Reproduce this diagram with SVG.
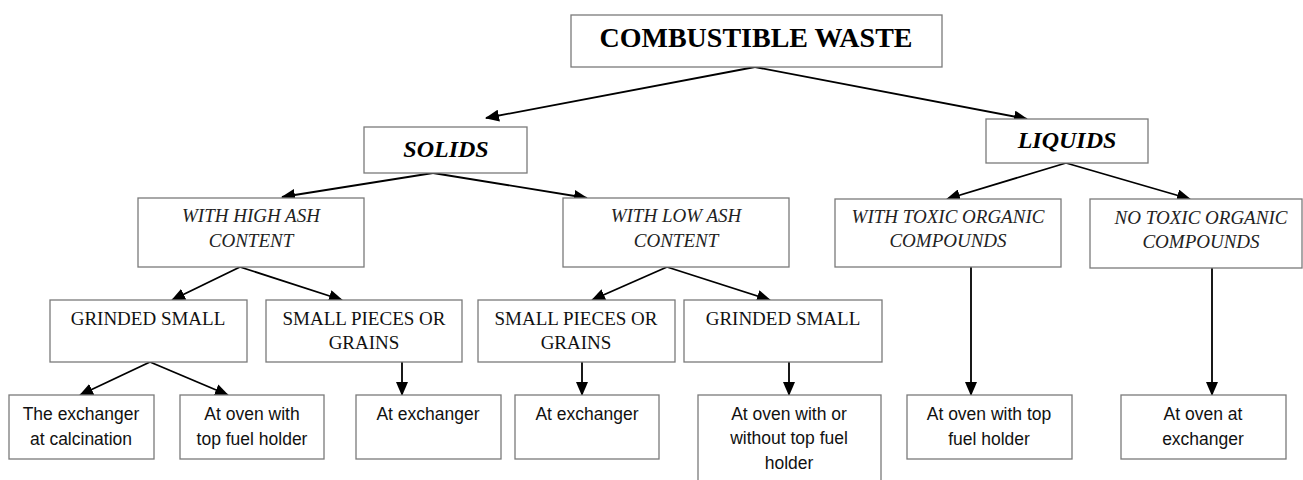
<svg xmlns="http://www.w3.org/2000/svg" width="1303" height="480" viewBox="0 0 1303 480">
<style>
.box{fill:#fff;stroke:#7a7a7a;stroke-width:1.3}
.t{text-anchor:middle;fill:#000}
.root{font-family:"Liberation Serif","Times New Roman",Times,"DejaVu Serif",serif;font-weight:bold;font-size:28px}
.cat{font-family:"Liberation Serif","Times New Roman",Times,"DejaVu Serif",serif;font-weight:bold;font-style:italic;font-size:24px}
.it{font-family:"Liberation Serif","Times New Roman",Times,"DejaVu Serif",serif;font-style:italic;font-size:19px;fill:#222}
.sr{font-family:"Liberation Serif","Times New Roman",Times,"DejaVu Serif",serif;font-size:19px;fill:#111}
.ss{font-family:"Liberation Sans",Arial,sans-serif;font-size:17.5px;fill:#111}
.c{stroke:#000;stroke-width:1.8;fill:none;marker-end:url(#ah)}
</style>
<defs>
<marker id="ah" markerUnits="userSpaceOnUse" markerWidth="14" markerHeight="12" viewBox="0 0 14 12" refX="13" refY="6" orient="auto">
<path d="M0,0 L14,6 L0,12 z" fill="#000"/>
</marker>
</defs>
<rect width="1303" height="480" fill="#fff"/>
<g id="connectors">
<path class="c" d="M755,67 L486,118"/>
<path class="c" d="M755,67 L1027,119"/>
<path class="c" d="M433,173 L282,197"/>
<path class="c" d="M433,173 L587,198"/>
<path class="c" d="M1066,163 L947,199"/>
<path class="c" d="M1066,163 L1190,199"/>
<path class="c" d="M240,267 L172,300"/>
<path class="c" d="M240,267 L342,300"/>
<path class="c" d="M667,267 L592,300"/>
<path class="c" d="M667,267 L770,300"/>
<path class="c" d="M150,362 L80,395"/>
<path class="c" d="M150,362 L228,395"/>
<path class="c" d="M402,362 L402,395"/>
<path class="c" d="M582,362 L582,395"/>
<path class="c" d="M789,362 L789,395"/>
<path class="c" d="M971,267 L971,395"/>
<path class="c" d="M1212,268 L1212,395"/>
</g>
<g id="n-root"><rect class="box" x="571" y="15" width="371" height="52"/><text class="t root" x="756" y="47">COMBUSTIBLE WASTE</text></g>
<g id="n-solids"><rect class="box" x="364" y="127" width="163" height="46"/><text class="t cat" x="446" y="157">SOLIDS</text></g>
<g id="n-liquids"><rect class="box" x="986" y="119" width="162" height="44"/><text class="t cat" x="1067" y="148">LIQUIDS</text></g>
<g id="n-highash"><rect class="box" x="138" y="198" width="226" height="69"/><text class="t it" x="251" y="222">WITH HIGH ASH</text><text class="t it" x="251" y="247">CONTENT</text></g>
<g id="n-lowash"><rect class="box" x="563" y="198" width="226" height="69"/><text class="t it" x="676" y="222">WITH LOW ASH</text><text class="t it" x="676" y="247">CONTENT</text></g>
<g id="n-toxic"><rect class="box" x="835" y="199" width="226" height="68"/><text class="t it" x="948" y="223">WITH TOXIC ORGANIC</text><text class="t it" x="948" y="247">COMPOUNDS</text></g>
<g id="n-notoxic"><rect class="box" x="1090" y="199" width="212" height="69"/><text class="t it" x="1201" y="224">NO TOXIC ORGANIC</text><text class="t it" x="1201" y="248">COMPOUNDS</text></g>
<g id="n-grind1"><rect class="box" x="50" y="300" width="197" height="62"/><text class="t sr" x="148" y="325">GRINDED SMALL</text></g>
<g id="n-pieces1"><rect class="box" x="266" y="300" width="196" height="62"/><text class="t sr" x="364" y="325">SMALL PIECES OR</text><text class="t sr" x="364" y="349">GRAINS</text></g>
<g id="n-pieces2"><rect class="box" x="478" y="300" width="197" height="62"/><text class="t sr" x="576" y="325">SMALL PIECES OR</text><text class="t sr" x="576" y="349">GRAINS</text></g>
<g id="n-grind2"><rect class="box" x="684" y="300" width="198" height="62"/><text class="t sr" x="783" y="325">GRINDED SMALL</text></g>
<g id="n-calc"><rect class="box" x="9" y="395" width="145" height="64"/><text class="t ss" x="81" y="420">The exchanger</text><text class="t ss" x="81" y="445">at calcination</text></g>
<g id="n-oventop1"><rect class="box" x="180" y="395" width="144" height="64"/><text class="t ss" x="252" y="420">At oven with</text><text class="t ss" x="252" y="445">top fuel holder</text></g>
<g id="n-exch1"><rect class="box" x="356" y="395" width="145" height="64"/><text class="t ss" x="428" y="420">At exchanger</text></g>
<g id="n-exch2"><rect class="box" x="515" y="395" width="144" height="64"/><text class="t ss" x="587" y="420">At exchanger</text></g>
<g id="n-ovenor"><rect class="box" x="698" y="395" width="183" height="95"/><text class="t ss" x="789" y="420">At oven with or</text><text class="t ss" x="789" y="444">without top fuel</text><text class="t ss" x="789" y="469">holder</text></g>
<g id="n-oventop2"><rect class="box" x="907" y="395" width="165" height="64"/><text class="t ss" x="989" y="420">At oven with top</text><text class="t ss" x="989" y="445">fuel holder</text></g>
<g id="n-ovenexch"><rect class="box" x="1121" y="395" width="165" height="64"/><text class="t ss" x="1203" y="420">At oven at</text><text class="t ss" x="1203" y="445">exchanger</text></g>
</svg>
